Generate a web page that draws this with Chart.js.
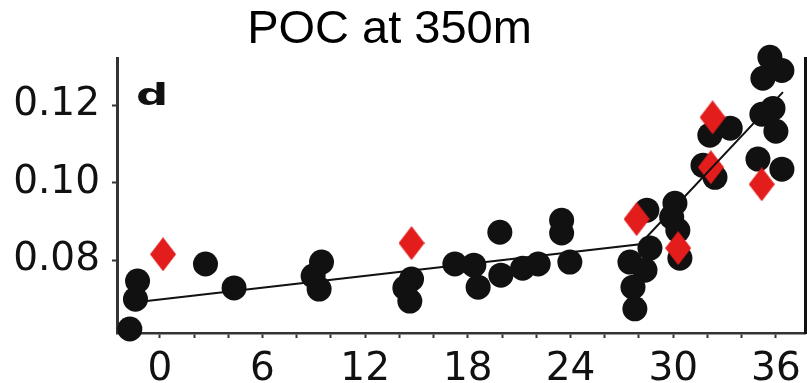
<!DOCTYPE html>
<html>
<head>
<meta charset="utf-8">
<script src="https://cdn.jsdelivr.net/npm/chart.js@4.4.1/dist/chart.umd.min.js"></script>
<style>
    html, body { margin: 0; padding: 0; background: #fff; overflow: hidden; }
    /* canvas is a bit wider than the window so the title sits where it does in the figure */
    #wrap { position: absolute; left: -28px; top: 0; width: 835px; height: 383px; }
</style>
</head>
<body>
<div id="wrap"><canvas id="pocChart"></canvas></div>
<script>
// black dots
const dotX = [-1.75, -1.30, -1.42, 2.67, 4.34, 9.45, 8.96, 9.31, 14.71, 14.32, 14.61,
              17.24, 18.35, 18.60, 19.87, 19.93, 21.20, 22.11, 23.48, 23.48, 23.96,
              27.47, 28.35, 27.65, 27.76, 28.64, 28.46, 30.10, 29.91, 30.27, 30.39,
              32.14, 33.33, 31.74, 32.44, 35.65, 36.35, 35.24, 35.83, 35.18, 36.00,
              34.95, 36.35];
const dotY = [0.0622, 0.0746, 0.0699, 0.0790, 0.0728, 0.0795, 0.0759, 0.0725, 0.0751, 0.0728, 0.0694,
              0.0790, 0.0787, 0.0730, 0.0872, 0.0761, 0.0779, 0.0790, 0.0903, 0.0870, 0.0795,
              0.0795, 0.0774, 0.0730, 0.0674, 0.0831, 0.0929, 0.0947, 0.0911, 0.0877, 0.0805,
              0.1123, 0.1141, 0.1045, 0.1014, 0.1324, 0.1290, 0.1270, 0.1192, 0.1177, 0.1133,
              0.1061, 0.1035];

// red diamonds
const diamondX = [0.19, 14.71, 27.86, 30.29, 32.30, 32.20, 35.17];
const diamondY = [0.0815, 0.0844, 0.0906, 0.0831, 0.1169, 0.1040, 0.0996];

// fitted line (two pieces)
const fitX = [-0.76, 28.05, 36.41];
const fitY = [0.0694, 0.0841, 0.1234];

const xTicks = [0, 2, 4, 6, 8, 10, 12, 14, 16, 18, 20, 22, 24, 26, 28, 30, 32, 34, 36];
const xLabels = [0, 6, 12, 18, 24, 30, 36];
const yTicks = [0.08, 0.10, 0.12];

const X_MIN = -2.5, X_MAX = 37.7;
const Y_MIN = 0.06116, Y_MAX = 0.13213;

function toPoints(xs, ys) {
    return xs.map((x, i) => ({ x: x, y: ys[i] }));
}

// tall red diamond marker
function makeDiamond(w, h, color) {
    const c = document.createElement('canvas');
    c.width = w;
    c.height = h;
    const g = c.getContext('2d');
    g.fillStyle = color;
    g.beginPath();
    g.moveTo(w / 2, 0);
    g.lineTo(w, h / 2);
    g.lineTo(w / 2, h);
    g.lineTo(0, h / 2);
    g.closePath();
    g.fill();
    return c;
}

// the "d" panel letter
const panelLetter = {
    id: 'panelLetter',
    afterDraw(chart) {
        const { ctx, chartArea } = chart;
        ctx.save();
        ctx.font = 'bold 31px "DejaVu Sans"';
        ctx.fillStyle = '#111';
        ctx.textAlign = 'center';
        ctx.textBaseline = 'alphabetic';
        ctx.translate(chartArea.left + 35, chartArea.top + 47);
        ctx.scale(1.45, 1);
        ctx.fillText('d', 0, 0);
        ctx.restore();
    }
};

const tickFont = { family: 'DejaVu Sans', size: 39 };

new Chart(document.getElementById('pocChart'), {
    type: 'scatter',
    data: {
        datasets: [
            {
                label: 'fit',
                type: 'line',
                data: toPoints(fitX, fitY),
                borderColor: '#111',
                borderWidth: 2,
                pointRadius: 0,
                fill: false,
                order: 0
            },
            {
                label: 'diamonds',
                data: toPoints(diamondX, diamondY),
                pointStyle: makeDiamond(26, 34, '#e31c1c'),
                pointRadius: 13,
                clip: false,
                order: 1
            },
            {
                label: 'dots',
                data: toPoints(dotX, dotY),
                backgroundColor: '#111',
                borderWidth: 0,
                pointRadius: 12.5,
                clip: false,
                order: 2
            }
        ]
    },
    options: {
        responsive: true,
        maintainAspectRatio: false,
        animation: false,
        layout: { padding: 0, autoPadding: false },
        plugins: {
            legend: { display: false },
            tooltip: { enabled: false },
            title: {
                display: true,
                text: 'POC at 350m',
                color: '#000',
                font: { family: 'Liberation Sans', size: 47, weight: 'normal' },
                padding: { top: 2, bottom: 0 }
            }
        },
        scales: {
            x: {
                type: 'linear',
                min: X_MIN,
                max: X_MAX,
                afterBuildTicks: (scale) => {
                    scale.ticks = xTicks.map(v => ({ value: v }));
                },
                afterFit: (scale) => {
                    scale.height = 50;
                    scale.paddingLeft = 0;
                    scale.paddingRight = 0;
                },
                ticks: {
                    autoSkip: false,
                    maxRotation: 0,
                    padding: 8,
                    color: '#111',
                    font: tickFont,
                    callback: (v) => xLabels.includes(v) ? String(v) : ''
                },
                grid: { drawOnChartArea: false, tickLength: 5, tickWidth: 2, tickColor: '#333' },
                border: { display: true, color: '#333', width: 2.5 }
            },
            y: {
                type: 'linear',
                position: 'left',
                min: Y_MIN,
                max: Y_MAX,
                afterBuildTicks: (scale) => {
                    scale.ticks = yTicks.map(v => ({ value: v }));
                },
                afterFit: (scale) => { scale.width = 145; },
                ticks: {
                    padding: 12,
                    color: '#111',
                    font: tickFont,
                    callback: (v) => v.toFixed(2)
                },
                grid: { drawOnChartArea: false, tickLength: 5, tickWidth: 2, tickColor: '#333' },
                border: { display: true, color: '#333', width: 3 }
            },
            y2: {
                type: 'linear',
                position: 'right',
                min: Y_MIN,
                max: Y_MAX,
                afterFit: (scale) => { scale.width = 2; },
                ticks: { display: false },
                grid: { drawOnChartArea: false, drawTicks: false },
                border: { display: true, color: '#111', width: 3 }
            }
        }
    },
    plugins: [panelLetter]
});
</script>
</body>
</html>
